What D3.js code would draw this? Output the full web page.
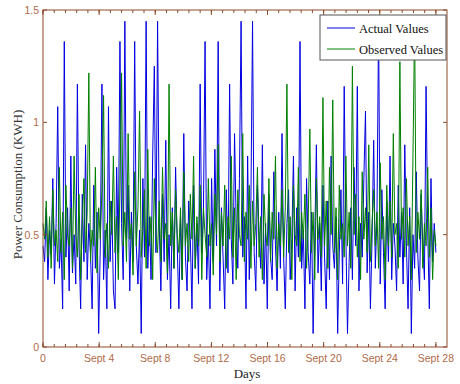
<!DOCTYPE html>
<html>
<head>
<meta charset="utf-8">
<script src="https://cdn.jsdelivr.net/npm/d3@7"></script>
<style>
  body { margin: 0; background: #fff; }
</style>
</head>
<body>
<div id="chart"></div>
<script>
// hours between samples; series run from Sept 0 to Sept 28
var stepHours = 2.8;

var actualValues = [
  0.45,0.38,0.62,0.30,0.52,0.41,0.75,0.28,0.55,1.07,0.35,0.48,0.17,1.36,0.40,0.62,0.25,0.85,0.33,0.50,
  0.28,1.17,0.45,0.17,0.68,0.38,0.90,0.30,0.55,0.42,0.17,0.72,0.35,0.60,0.06,0.45,1.17,0.30,0.52,0.17,
  1.07,0.38,0.65,0.25,0.17,0.80,0.42,1.36,0.55,0.30,1.45,0.48,0.72,0.25,0.60,0.38,1.36,0.45,0.28,0.52,
  0.06,0.75,0.40,1.45,0.35,0.58,0.30,0.85,1.25,0.42,1.45,0.55,0.25,0.68,0.38,0.92,0.30,0.50,0.17,0.62,
  0.35,0.80,0.45,0.17,0.58,0.30,0.95,0.40,0.25,0.65,0.48,0.17,0.72,0.35,0.55,0.28,1.17,0.42,0.60,1.36,
  0.30,0.50,0.17,0.75,0.38,0.88,0.45,1.36,0.25,0.62,0.40,0.17,0.70,0.33,1.17,0.48,0.28,0.95,0.55,0.35,
  0.75,1.45,0.40,0.58,0.17,0.85,0.30,0.65,1.45,0.42,0.25,0.72,0.50,0.35,0.90,0.28,0.55,0.17,0.68,0.40,
  0.30,0.78,0.45,0.25,0.60,0.35,0.95,0.40,0.17,0.55,0.70,0.30,0.48,0.85,0.25,0.62,0.40,1.36,0.35,0.52,
  0.17,0.75,0.42,0.28,0.60,0.06,0.48,0.90,0.33,0.55,0.25,0.72,0.40,0.17,0.65,0.30,0.85,0.45,0.35,0.58,
  0.06,0.42,0.70,0.28,1.16,0.50,0.06,0.38,0.62,0.30,0.80,0.45,1.16,0.25,0.55,0.40,0.75,1.05,0.33,0.60,
  0.17,0.48,0.92,0.35,0.58,1.45,0.28,0.70,0.42,0.17,0.65,0.38,0.85,0.30,0.55,0.45,0.25,0.72,0.40,0.60,
  0.28,0.90,0.45,0.17,0.62,0.06,0.50,0.35,0.78,0.40,0.25,0.68,0.45,0.30,1.16,0.52,0.17,0.75,0.38,0.55,
  0.42
];

var observedValues = [
  0.55,0.48,0.65,0.40,0.58,0.35,0.70,0.45,0.52,0.38,0.80,0.42,0.60,0.30,0.72,0.50,0.45,0.62,0.35,0.85,
  0.50,0.40,0.68,0.30,0.55,0.75,0.42,0.60,1.22,0.38,0.52,0.45,0.80,0.33,0.62,0.48,0.70,1.12,0.40,0.55,
  0.35,0.65,0.50,0.85,0.42,0.58,0.30,0.72,1.22,0.45,0.60,0.38,0.95,0.48,0.55,0.32,0.78,0.45,0.62,1.05,
  0.40,0.52,0.70,0.35,0.88,0.45,0.58,0.30,0.75,0.50,0.42,0.65,0.38,0.80,0.48,0.55,0.33,1.17,0.45,0.60,
  0.35,0.70,0.50,0.42,0.62,0.30,0.78,0.45,0.55,0.38,0.68,0.48,0.85,0.35,0.58,0.45,0.72,0.30,0.62,0.50,
  0.40,0.75,0.45,0.55,0.32,0.68,0.50,0.90,0.38,0.60,0.45,0.72,0.35,0.58,0.48,0.85,0.40,0.62,0.30,0.70,
  0.50,0.45,0.95,0.38,0.60,0.48,0.72,0.35,0.65,0.45,0.55,0.80,0.40,0.58,0.30,0.68,0.50,0.45,0.75,0.38,
  0.60,0.48,0.85,0.35,0.55,0.45,0.70,0.40,0.62,1.17,0.42,0.58,0.30,0.72,0.50,0.45,0.80,0.38,0.60,0.48,
  0.68,0.35,0.55,0.97,0.42,0.60,0.30,0.75,0.48,0.58,0.40,1.11,0.45,0.65,0.35,0.80,0.50,1.10,0.42,0.62,
  0.30,0.72,0.48,0.55,0.40,0.85,0.45,0.60,0.35,1.25,0.50,0.68,0.40,0.58,0.30,0.78,0.48,0.62,0.42,0.90,
  0.38,0.55,0.70,0.45,0.60,0.35,0.82,0.48,0.58,0.30,0.72,0.45,0.65,0.40,0.95,0.50,0.55,0.35,1.27,0.48,
  0.62,0.40,0.75,0.45,0.58,0.30,0.85,1.45,0.42,0.60,0.48,0.70,0.35,0.55,0.45,0.80,0.40,0.62,0.30,0.52,
  0.45
];

var xTickHours = [0, 96, 192, 288, 384, 480, 576, 672];
var xTickLabels = ["0", "Sept 4", "Sept 8", "Sept 12", "Sept 16", "Sept 20", "Sept 24", "Sept 28"];
var yTicks = [0, 0.5, 1, 1.5];
var seriesNames = ["Actual Values", "Observed Values"];
var seriesColors = ["#0000e0", "#008000"];

var axisColor = "#8c4a2a",
  labelColor = "#b06a48";

var margin = { top: 10, right: 13, bottom: 37, left: 43 },
  width = 460 - margin.left - margin.right,
  height = 384 - margin.top - margin.bottom;

var svg = d3.select("#chart")
  .append("svg")
  .attr("width", 460)
  .attr("height", 384)
  .append("g")
  .attr("transform", "translate(" + margin.left + "," + margin.top + ")");

var x = d3.scaleLinear()
  .domain([0, 691])
  .range([0, width]);

var y = d3.scaleLinear()
  .domain([0, 1.5])
  .range([height, 0]);

var line = d3.line()
  .x(function (d, i) { return x(i * stepHours); })
  .y(function (d) { return y(d); });

// series: actual first, observed drawn over it
[actualValues, observedValues].forEach(function (vals, k) {
  svg.append("path")
    .datum(vals)
    .attr("fill", "none")
    .attr("stroke", seriesColors[k])
    .attr("stroke-width", 1)
    .attr("d", line);
});

// minor x ticks every 0.8 day
var minorX = d3.range(0, 691, 19.2);

// box
svg.append("rect")
  .attr("x", 0).attr("y", 0)
  .attr("width", width).attr("height", height)
  .attr("fill", "none")
  .attr("stroke", axisColor)
  .attr("stroke-width", 1);

// ticks inside the box, bottom and top
svg.append("g").selectAll("line.minor").data(minorX).enter().append("line")
  .attr("x1", function (d) { return x(d); }).attr("x2", function (d) { return x(d); })
  .attr("y1", height).attr("y2", height - 3)
  .attr("stroke", axisColor);
svg.append("g").selectAll("line.minort").data(minorX).enter().append("line")
  .attr("x1", function (d) { return x(d); }).attr("x2", function (d) { return x(d); })
  .attr("y1", 0).attr("y2", 3)
  .attr("stroke", axisColor);
svg.append("g").selectAll("line.major").data(xTickHours).enter().append("line")
  .attr("x1", function (d) { return x(d); }).attr("x2", function (d) { return x(d); })
  .attr("y1", height).attr("y2", height - 5)
  .attr("stroke", axisColor);
svg.append("g").selectAll("line.majort").data(xTickHours).enter().append("line")
  .attr("x1", function (d) { return x(d); }).attr("x2", function (d) { return x(d); })
  .attr("y1", 0).attr("y2", 5)
  .attr("stroke", axisColor);

svg.append("g").selectAll("line.yl").data(yTicks).enter().append("line")
  .attr("x1", 0).attr("x2", 4)
  .attr("y1", function (d) { return y(d); }).attr("y2", function (d) { return y(d); })
  .attr("stroke", axisColor);
svg.append("g").selectAll("line.yr").data(yTicks).enter().append("line")
  .attr("x1", width).attr("x2", width - 4)
  .attr("y1", function (d) { return y(d); }).attr("y2", function (d) { return y(d); })
  .attr("stroke", axisColor);

// tick labels
svg.append("g").selectAll("text").data(xTickHours).enter().append("text")
  .attr("x", function (d) { return x(d); })
  .attr("y", height + 15)
  .attr("text-anchor", "middle")
  .attr("fill", labelColor)
  .style("font-family", "Liberation Sans, Arial, sans-serif")
  .style("font-size", "10.5px")
  .text(function (d, i) { return xTickLabels[i]; });

svg.append("g").selectAll("text").data(yTicks).enter().append("text")
  .attr("x", -4)
  .attr("y", function (d) { return y(d) + 4; })
  .attr("text-anchor", "end")
  .attr("fill", labelColor)
  .style("font-family", "Liberation Sans, Arial, sans-serif")
  .style("font-size", "10.5px")
  .text(function (d) { return d; });

// axis titles
svg.append("text")
  .attr("x", width / 2 + 2)
  .attr("y", height + 31)
  .attr("text-anchor", "middle")
  .attr("fill", "#222")
  .style("font-family", "Liberation Serif, Times New Roman, serif")
  .style("font-size", "13px")
  .text("Days");

svg.append("text")
  .attr("transform", "rotate(-90)")
  .attr("x", -(height / 2) - 6)
  .attr("y", -21)
  .attr("text-anchor", "middle")
  .attr("fill", "#333")
  .style("font-family", "Liberation Serif, Times New Roman, serif")
  .style("font-size", "13px")
  .text("Power Consumption (KWH)");

// legend
var legend = svg.append("g")
  .attr("transform", "translate(" + (width - 127) + ",5)");

legend.append("rect")
  .attr("width", 126).attr("height", 45)
  .attr("fill", "#fff")
  .attr("stroke", "#555")
  .attr("stroke-width", 1);

seriesNames.forEach(function (name, i) {
  legend.append("line")
    .attr("x1", 7).attr("x2", 35)
    .attr("y1", 13 + i * 21).attr("y2", 13 + i * 21)
    .attr("stroke", seriesColors[i]);
  legend.append("text")
    .attr("x", 39)
    .attr("y", 18 + i * 21)
    .attr("fill", "#111")
    .style("font-family", "Liberation Serif, Times New Roman, serif")
    .style("font-size", "12.5px")
    .text(name);
});
</script>
</body>
</html>
